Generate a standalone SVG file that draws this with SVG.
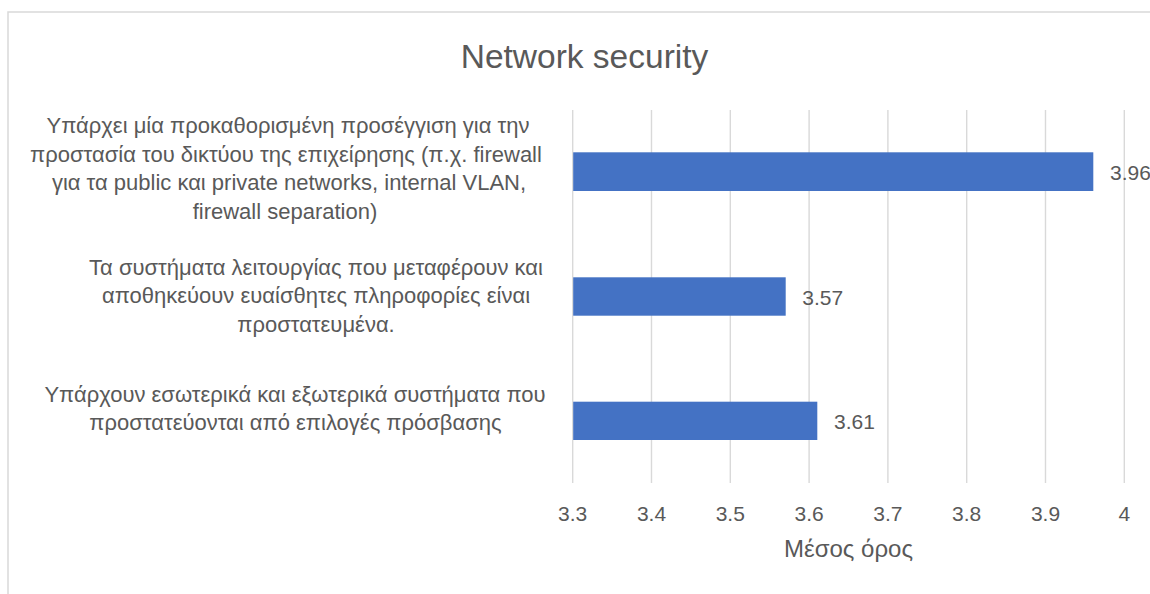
<svg xmlns="http://www.w3.org/2000/svg" width="1150" height="594" viewBox="0 0 1150 594">
  <style>
    text { font-family: "Liberation Sans", Arial, sans-serif; fill: #595959; }
    .title { font-size: 33.5px; }
    .cat { font-size: 22px; text-anchor: middle; }
    .tick { font-size: 21px; text-anchor: middle; }
    .val { font-size: 21px; }
    .axt { font-size: 24px; text-anchor: middle; }
    .grid line { stroke: #D9D9D9; stroke-width: 1.4; }
    .bar { fill: #4472C4; }
  </style>
  <rect x="8" y="12" width="1160" height="600" fill="#FFFFFF" stroke="#D9D9D9" stroke-width="1.5"/>
  <text class="title" x="584.5" y="68" text-anchor="middle">Network security</text>
  <g id="gridlines" class="grid">
    <line x1="572.7" y1="110" x2="572.7" y2="483"/>
    <line x1="651.5" y1="110" x2="651.5" y2="483"/>
    <line x1="730.3" y1="110" x2="730.3" y2="483"/>
    <line x1="809.1" y1="110" x2="809.1" y2="483"/>
    <line x1="887.9" y1="110" x2="887.9" y2="483"/>
    <line x1="966.7" y1="110" x2="966.7" y2="483"/>
    <line x1="1045.5" y1="110" x2="1045.5" y2="483"/>
    <line x1="1124.3" y1="110" x2="1124.3" y2="483"/>
  </g>
  <g id="ticks">
    <text class="tick" x="572.7" y="521">3.3</text>
    <text class="tick" x="651.5" y="521">3.4</text>
    <text class="tick" x="730.3" y="521">3.5</text>
    <text class="tick" x="809.1" y="521">3.6</text>
    <text class="tick" x="887.9" y="521">3.7</text>
    <text class="tick" x="966.7" y="521">3.8</text>
    <text class="tick" x="1045.5" y="521">3.9</text>
    <text class="tick" x="1124.3" y="521">4</text>
  </g>
  <text class="axt" x="848.5" y="557">Μέσος όρος</text>
  <g id="bar1">
    <rect class="bar" x="573.2" y="152.3" width="520.1" height="38.7"/>
    <text class="val" x="1110" y="180">3.96</text>
    <text class="cat" x="288" y="133">Υπάρχει μία προκαθορισμένη προσέγγιση για την</text>
    <text class="cat" x="286" y="161.5">προστασία του δικτύου της επιχείρησης (π.χ. firewall</text>
    <text class="cat" x="289" y="190">για τα public και private networks, internal VLAN,</text>
    <text class="cat" x="285" y="218.5">firewall separation)</text>
  </g>
  <g id="bar2">
    <rect class="bar" x="573.2" y="277.3" width="212.5" height="38.4"/>
    <text class="val" x="802.3" y="305">3.57</text>
    <text class="cat" x="316" y="275">Τα συστήματα λειτουργίας που μεταφέρουν και</text>
    <text class="cat" x="316" y="303.3">αποθηκεύουν ευαίσθητες πληροφορίες είναι</text>
    <text class="cat" x="316" y="331.7">προστατευμένα.</text>
  </g>
  <g id="bar3">
    <rect class="bar" x="573.2" y="401.7" width="244.1" height="38.3"/>
    <text class="val" x="834" y="429">3.61</text>
    <text class="cat" x="295" y="401.7">Υπάρχουν εσωτερικά και εξωτερικά συστήματα που</text>
    <text class="cat" x="295.5" y="430">προστατεύονται από επιλογές πρόσβασης</text>
  </g>
  <g id="connectors"/>
</svg>
